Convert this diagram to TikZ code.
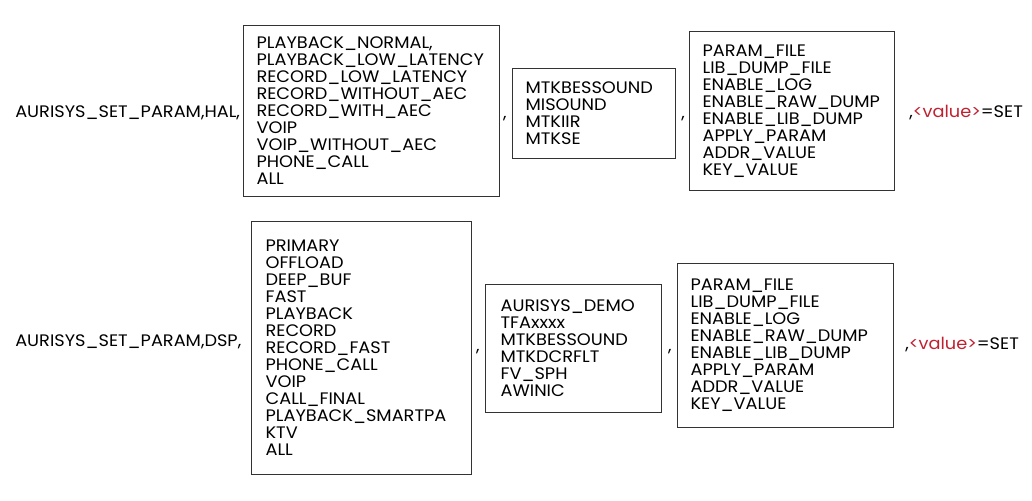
\documentclass[tikz,border=0pt]{standalone}
\usepackage{fontspec}
\setmainfont{Poppins}[FakeStretch=1.065]
\definecolor{valred}{RGB}{192,32,48}
\newcommand{\listfont}{\fontsize{12.5}{12.75}\selectfont}
\tikzset{
  listbox/.style={draw=black!80, line width=0.9pt, anchor=north west, align=left,
    inner xsep=9.75pt, inner ysep=0pt, font=\listfont},
  plain/.style={anchor=base west, inner sep=0pt, font=\listfont},
  sepmark/.style={anchor=base, inner sep=0pt, font=\listfont},
}
\begin{document}
\begin{tikzpicture}[x=0.75pt,y=-0.75pt]
  \useasboundingbox (0,0) rectangle (1032,500);
  % HAL row
  \node[plain] (hal) at (15,117) {AURISYS\_SET\_PARAM,HAL,};
  \node[listbox,text width=172.5pt,minimum height=128.25pt] (scenehal) at (243,25)
    {PLAYBACK\_NORMAL,\\PLAYBACK\_LOW\_LATENCY\\RECORD\_LOW\_LATENCY\\RECORD\_WITHOUT\_AEC\\RECORD\_WITH\_AEC\\VOIP\\VOIP\_WITHOUT\_AEC\\PHONE\_CALL\\ALL};
  \node[sepmark] (ca) at (505,118) {,};
  \node[listbox,text width=102.75pt,minimum height=67.5pt] (libhal) at (512,68)
    {MTKBESSOUND\\MISOUND\\MTKIIR\\MTKSE};
  \node[sepmark] (cb) at (683,118) {,};
  \node[listbox,text width=134.25pt,minimum height=119.25pt] (keyhal) at (689,31)
    {PARAM\_FILE\\LIB\_DUMP\_FILE\\ENABLE\_LOG\\ENABLE\_RAW\_DUMP\\ENABLE\_LIB\_DUMP\\APPLY\_PARAM\\ADDR\_VALUE\\KEY\_VALUE};
  \node[plain] (sethal) at (909,117) {,\textcolor{valred}{<value>}=SET};
  % DSP row
  \node[plain] (dsp) at (15,346) {AURISYS\_SET\_PARAM,DSP,};
  \node[listbox,text width=144pt,minimum height=189.75pt,inner xsep=10.5pt] (scenedsp) at (251,221)
    {PRIMARY\\OFFLOAD\\DEEP\_BUF\\FAST\\PLAYBACK\\RECORD\\RECORD\_FAST\\PHONE\_CALL\\VOIP\\CALL\_FINAL\\PLAYBACK\_SMARTPA\\KTV\\ALL};
  \node[sepmark] (cc) at (478,351) {,};
  \node[listbox,text width=109.5pt,minimum height=96pt,inner xsep=11.25pt] (libdsp) at (485,284)
    {AURISYS\_DEMO\\TFAxxxx\\MTKBESSOUND\\MTKDCRFLT\\FV\_SPH\\AWINIC};
  \node[sepmark] (cd) at (670,351) {,};
  \node[listbox,text width=142.5pt,minimum height=123pt] (keydsp) at (677,263)
    {PARAM\_FILE\\LIB\_DUMP\_FILE\\ENABLE\_LOG\\ENABLE\_RAW\_DUMP\\ENABLE\_LIB\_DUMP\\APPLY\_PARAM\\ADDR\_VALUE\\KEY\_VALUE};
  \node[plain] (setdsp) at (905,349) {,\textcolor{valred}{<value>}=SET};
\end{tikzpicture}
\end{document}
